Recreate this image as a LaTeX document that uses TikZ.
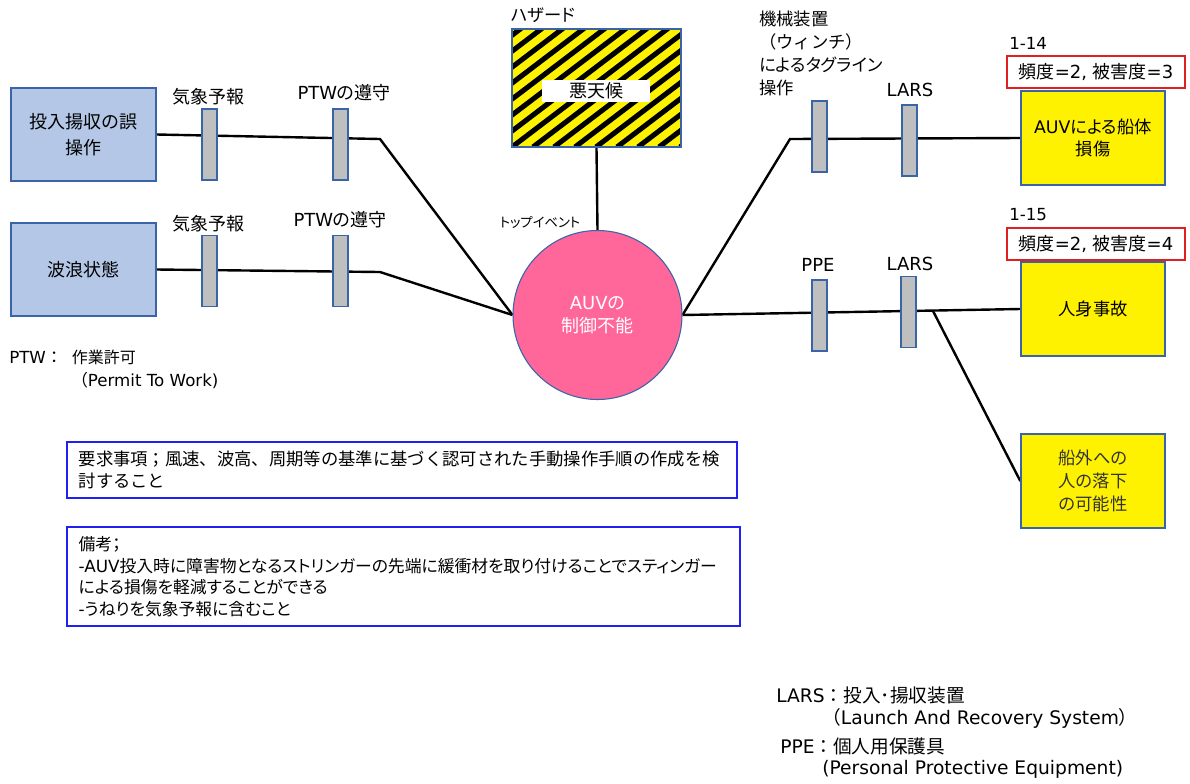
\documentclass[tikz,border=0pt]{standalone}
\usepackage{fontspec}
\setmainfont[RawFeature=+palt]{Noto Sans CJK JP}
\newfontfamily\plainjp{Noto Sans CJK JP}
\newfontfamily\lat{DejaVu Sans}
\newcommand\latn[1]{{\lat #1}}
\pgfdeclarelayer{bgzero}
\pgfdeclarelayer{lines}
\pgfsetlayers{bgzero,lines,main}
\definecolor{lblue}{HTML}{B4C7E7}
\definecolor{bdblue}{HTML}{3A64A8}
\definecolor{lgray}{HTML}{BFBFBF}
\definecolor{pinkc}{HTML}{FF6699}
\definecolor{riskred}{HTML}{E02020}
\definecolor{noteblue}{HTML}{2020F0}
\newcommand\fsz[2]{\fontsize{#1}{#2}\selectfont}
\begin{document}
\begin{tikzpicture}[x=0.75pt,y=-0.75pt,
  cause/.style={draw=bdblue, fill=lblue, line width=1.1pt, minimum width=108.75pt, minimum height=69.75pt, align=center, font=\fsz{13.5}{19}},
  barrier/.style={draw=bdblue, fill=lgray, line width=1.1pt, minimum width=11.25pt, minimum height=53.25pt, inner sep=0pt},
  event/.style={draw=bdblue, fill=yellow, line width=1.1pt, minimum width=108pt, minimum height=70.5pt, align=center, font=\fsz{13}{17}},
  riskbox/.style={draw=riskred, line width=0.9pt, minimum width=133.5pt, minimum height=24pt, inner sep=0pt, font=\plainjp\fsz{13.5}{15}},
  lbl/.style={inner sep=0pt, font=\fsz{13.5}{15}},
  notebox/.style={draw=noteblue, line width=0.9pt, inner sep=0pt},
  conn/.style={line width=1.8pt, black},
  topev/.style={circle, draw=bdblue, fill=pinkc, line width=0.8pt, minimum size=126.75pt, text=white, align=center, font=\fsz{13.5}{17.5}},
  hazard/.style={draw=bdblue, line width=1.1pt, fill=yellow, minimum width=126.75pt, minimum height=88.5pt, inner sep=0pt,
    path picture={\foreach \k in {-9,...,10}{\draw[line width=3.8pt, black] ([xshift=\k*15.75pt]path picture bounding box.south west) -- ++(150pt,114pt);}}}
]
\begin{pgfonlayer}{bgzero}
\fill[white] (0,0) rectangle (1190,783);
\end{pgfonlayer}
\useasboundingbox (0,0) rectangle (1190,783);

% causes
\node[cause] (c1) at (83.5,134.5) {投入揚収の誤\\操作};
\node[cause] (c2) at (83.5,269.5) {波浪状態};
% left barriers
\node[barrier] (b11) at (209.5,144.5) {};
\node[barrier] (b12) at (340.5,144.5) {};
\node[barrier] (b21) at (209.5,271) {};
\node[barrier] (b22) at (340.5,271) {};
\node[lbl] (l11) at (208,97) {気象予報};
\node[lbl] (l12) at (344,93) {\latn{PTW}の遵守};
\node[lbl] (l21) at (208,224) {気象予報};
\node[lbl] (l22) at (340,220) {\latn{PTW}の遵守};

% top event and hazard
\node[topev] (te) at (597.5,315) {\latn{AUV}の\\制御不能};
\node[hazard] (hz) at (596.5,88) {};
\node[fill=white, minimum width=81pt, minimum height=16.5pt, inner sep=0pt, font=\fsz{13.5}{15}] (hzt) at (596,91) {悪天候};
\node[lbl, anchor=west, font=\fsz{13}{15}] (hzl) at (511,15) {ハザード};
\node[inner sep=0pt, font=\fsz{10}{12}] (tel) at (540,222) {トップイベント};

% right barriers
\node[barrier] (b31) at (819.5,136.5) {};
\node[barrier] (b32) at (909.5,140.5) {};
\node[barrier] (b41) at (819.5,315.5) {};
\node[barrier] (b42) at (908.5,312) {};
\node[lbl, anchor=north west, align=left, font=\fsz{13}{17.25}] (l31) at (759,11) {機械装置\\\plainjp（ウィンチ）\\によるタグライン\\操作};
\node[lbl] (l32) at (910,90) {\latn{LARS}};
\node[lbl] (l41) at (818,265) {\latn{PPE}};
\node[lbl] (l42) at (910,264) {\latn{LARS}};

% consequences
\node[event] (e1) at (1093,138) {\latn{AUV}による船体\\損傷};
\node[event] (e2) at (1093,309) {人身事故};
\node[event, text=black!80] (e3) at (1093,481) {船外への\\人の落下\\の可能性};
\node[riskbox] (r1) at (1096,72) {頻度\latn{=2, }被害度\latn{=3}};
\node[riskbox] (r2) at (1096,244) {頻度\latn{=2, }被害度\latn{=4}};
\node[lbl, anchor=west, font=\fsz{12.5}{15}] (n1) at (1009,43) {\latn{1-14}};
\node[lbl, anchor=west, font=\fsz{12.5}{15}] (n2) at (1009,215) {\latn{1-15}};

% connectors
\coordinate (j1) at (380,139);
\coordinate (j2) at (380,272);
\coordinate (j3) at (790,139);
\coordinate (j4) at (933,311);
\begin{pgfonlayer}{lines}
\draw[conn] (c1.east) -- (j1) -- (te.west);
\draw[conn] (c2.east) -- (j2) -- (te.west);
\draw[conn] (te.east) -- (j3) -- (e1.west);
\draw[conn] (te.east) -- (e2.west);
\draw[conn] (j4) -- (e3.west);
\draw[conn] (hz.south) -- (te.north);
\end{pgfonlayer}

% PTW legend
\node[lbl, anchor=west, font=\fsz{12.5}{15}] (ptw1) at (9,357) {\latn{PTW}\plainjp：\hspace{7pt}{\fsz{12}{15}作業許可}};
\node[lbl, anchor=west, font=\fsz{12.5}{15}] (ptw2) at (71,380) {\plainjp（\latn{Permit To Work)}};

% requirement and notes
\node[notebox, minimum width=502.5pt, minimum height=42pt] (req) at (402,470) {};
\node[anchor=west, align=left, inner sep=0pt, font=\plainjp\fsz{13}{16.5}] (reqt) at ([xshift=9pt]req.west) {要求事項；風速、波高、周期等の基準に基づく認可された手動操作手順の作成を検\\討すること};
\node[notebox, minimum width=504.75pt, minimum height=74.25pt] (nts) at (403.5,576.5) {};
\node[anchor=west, align=left, inner sep=0pt, font=\fsz{12.6}{16.2}] (ntst) at ([xshift=9pt]nts.west) {備考；\\\latn{-AUV}投入時に障害物となるストリンガーの先端に緩衝材を取り付けることでスティンガー\\ による損傷を軽減することができる\\\latn{-}うねりを気象予報に含むこと};

% bottom legend
\node[lbl, anchor=west, font=\fsz{14}{16}] (lg1) at (776,695) {\latn{LARS}\plainjp：投入･揚収装置};
\node[lbl, anchor=west, font=\fsz{14}{16}] (lg2) at (822,718) {\plainjp（\latn{Launch And Recovery System}）};
\node[lbl, anchor=west, font=\fsz{14}{16}] (lg3) at (780,746) {\latn{PPE}\plainjp：個人用保護具};
\node[lbl, anchor=west, font=\fsz{14}{16}] (lg4) at (822,769) {\latn{(Personal Protective Equipment)}};
\end{tikzpicture}
\end{document}
